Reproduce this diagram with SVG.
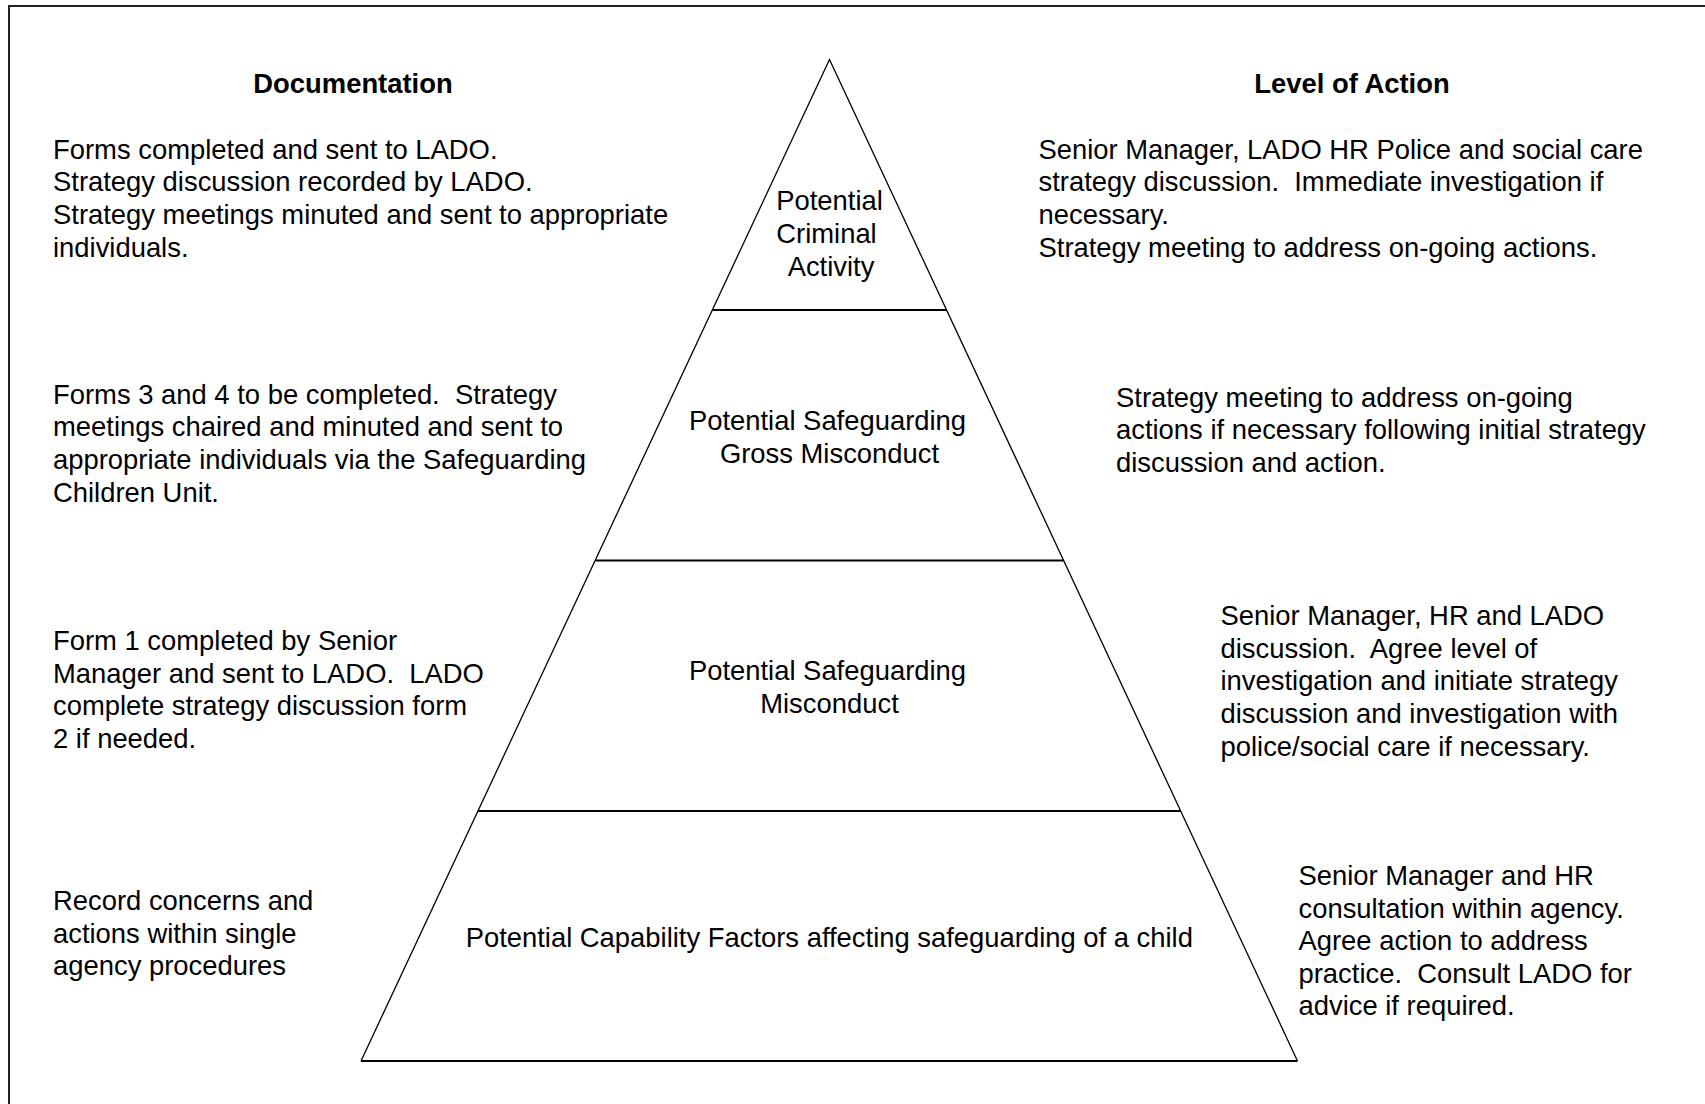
<svg xmlns="http://www.w3.org/2000/svg" width="1705" height="1104" viewBox="0 0 1705 1104" xml:space="preserve">
<style>
  text { font-family: "Liberation Sans", Arial, sans-serif; font-size: 27.4px; fill: #000; white-space: pre; }
  .h { font-weight: bold; text-anchor: middle; }
  .c { text-anchor: middle; }
  .side { fill: none; stroke: #000; stroke-width: 1.3; }
  .div { stroke: #000; stroke-width: 2; }
</style>
<rect x="0" y="0" width="1705" height="1104" fill="#fff"/>
<rect id="frame" x="9" y="6" width="1720" height="1120" fill="none" stroke="#222" stroke-width="2"/>
<g id="pyramid">
<polyline class="side" points="361,1061 829.5,59.5 1297.5,1061"/>
<line class="div" x1="361" y1="1061" x2="1297.5" y2="1061"/>
<line class="div" x1="712.4" y1="310" x2="946.6" y2="310"/>
<line class="div" x1="595.2" y1="560.5" x2="1063.8" y2="560.5"/>
<line class="div" x1="478.1" y1="811" x2="1180.9" y2="811"/>
</g>
<g id="level-criminal">
<text class="c" x="829.5" y="209.5">Potential</text>
<text class="c" x="826.5" y="242.5">Criminal</text>
<text class="c" x="831" y="275.5">Activity</text>
</g>
<g id="level-gross">
<text class="c" x="827.5" y="429.5">Potential Safeguarding</text>
<text class="c" x="829.5" y="462.5">Gross Misconduct</text>
</g>
<g id="level-misconduct">
<text class="c" x="827.5" y="679.5">Potential Safeguarding</text>
<text class="c" x="829.5" y="712.5">Misconduct</text>
</g>
<g id="level-capability">
<text class="c" x="829.3" y="946.5">Potential Capability Factors affecting safeguarding of a child</text>
</g>
<g id="documentation">
<text class="h" x="353" y="92.7">Documentation</text>
<g id="doc-1">
<text x="53" y="158.5">Forms completed and sent to LADO.</text>
<text x="53" y="191">Strategy discussion recorded by LADO.</text>
<text x="53" y="223.5">Strategy meetings minuted and sent to appropriate</text>
<text x="53" y="256.5">individuals.</text>
</g>
<g id="doc-2">
<text x="53" y="403.5">Forms 3 and 4 to be completed.  Strategy</text>
<text x="53" y="436">meetings chaired and minuted and sent to</text>
<text x="53" y="469">appropriate individuals via the Safeguarding</text>
<text x="53" y="501.5">Children Unit.</text>
</g>
<g id="doc-3">
<text x="53" y="650">Form 1 completed by Senior</text>
<text x="53" y="682.5">Manager and sent to LADO.  LADO</text>
<text x="53" y="715">complete strategy discussion form</text>
<text x="53" y="748">2 if needed.</text>
</g>
<g id="doc-4">
<text x="53" y="910">Record concerns and</text>
<text x="53" y="942.5">actions within single</text>
<text x="53" y="975">agency procedures</text>
</g>
</g>
<g id="action">
<text class="h" x="1352" y="92.7">Level of Action</text>
<g id="act-1">
<text x="1038.5" y="158.5">Senior Manager, LADO HR Police and social care</text>
<text x="1038.5" y="191">strategy discussion.  Immediate investigation if</text>
<text x="1038.5" y="223.5">necessary.</text>
<text x="1038.5" y="256.5">Strategy meeting to address on-going actions.</text>
</g>
<g id="act-2">
<text x="1116" y="406.5">Strategy meeting to address on-going</text>
<text x="1116" y="439">actions if necessary following initial strategy</text>
<text x="1116" y="471.5">discussion and action.</text>
</g>
<g id="act-3">
<text x="1220.5" y="625">Senior Manager, HR and LADO</text>
<text x="1220.5" y="657.5">discussion.  Agree level of</text>
<text x="1220.5" y="690">investigation and initiate strategy</text>
<text x="1220.5" y="723">discussion and investigation with</text>
<text x="1220.5" y="755.5">police/social care if necessary.</text>
</g>
<g id="act-4">
<text x="1298.5" y="885">Senior Manager and HR</text>
<text x="1298.5" y="917.5">consultation within agency.</text>
<text x="1298.5" y="950">Agree action to address</text>
<text x="1298.5" y="982.5">practice.  Consult LADO for</text>
<text x="1298.5" y="1015">advice if required.</text>
</g>
</g>
</svg>
